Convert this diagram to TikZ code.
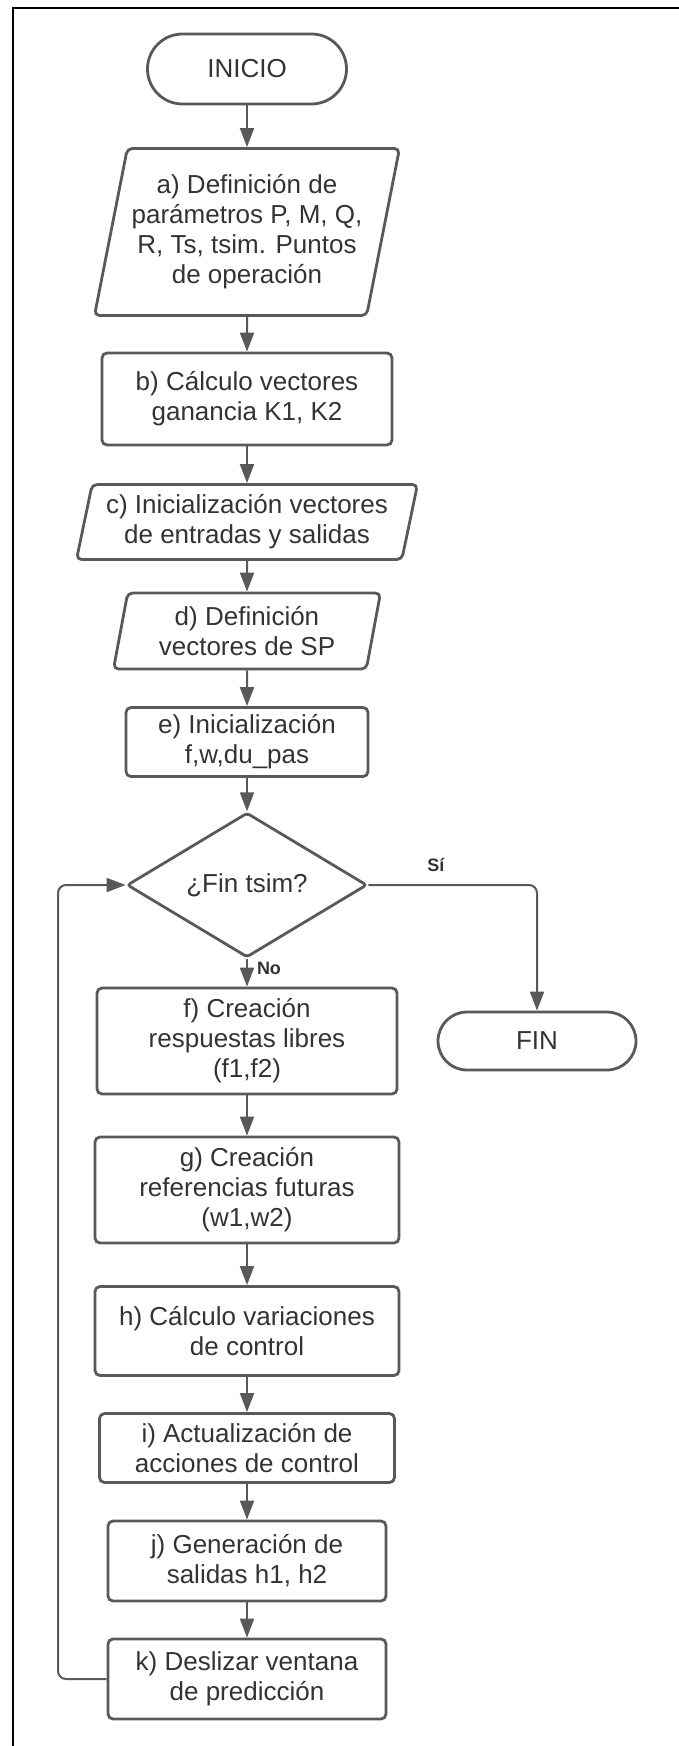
\documentclass[tikz,border=0pt]{standalone}
\usepackage{fontspec}
\setmainfont{Liberation Sans}
\usetikzlibrary{shapes.geometric,arrows.meta}
\definecolor{boxgray}{HTML}{595959}
\definecolor{txtgray}{HTML}{333333}
\tikzstyle{box}=[draw=boxgray, line width=2.8pt, rounded corners=5pt, text=txtgray, align=center, inner sep=0pt, font=\fontsize{26}{30}\selectfont]
\tikzstyle{proc}=[box, rectangle]
\tikzstyle{io}=[box, trapezium, trapezium left angle=74, trapezium right angle=106, trapezium stretches body]
\tikzstyle{term}=[box, rectangle]
\tikzstyle{cond}=[box, diamond, rounded corners=3pt]
\tikzstyle{arr}=[draw=boxgray, line width=2pt, -{Triangle[length=19pt,width=14pt]}]
\tikzstyle{lbl}=[text=txtgray, inner sep=2pt, font=\fontsize{18}{20}\selectfont\bfseries]

\begin{document}
\begin{tikzpicture}[x=1pt, y=-1pt]
\useasboundingbox (0,0) rectangle (679,1746);
\draw[black, line width=2pt] (12.5,1746) -- (12.5,7.5) -- (679,7.5);

\node[term, rounded corners=35pt, minimum width=199pt, minimum height=70pt] (inicio) at (247,69) {INICIO};
\node[io, minimum width=305pt, minimum height=167pt] (a) at (247,232) {a) Definición de\\parámetros P, M, Q,\\R, Ts, tsim. Puntos\\de operación};
\node[proc, minimum width=290pt, minimum height=92pt] (b) at (247,399) {b) Cálculo vectores\\ganancia K1, K2};
\node[io, minimum width=341pt, minimum height=75pt] (c) at (247,522) {c) Inicialización vectores\\de entradas y salidas};
\node[io, minimum width=267pt, minimum height=76pt] (d) at (247,631) {d) Definición\\vectores de SP};
\node[proc, minimum width=242pt, minimum height=69pt] (e) at (247,742) {e) Inicialización\\f,w,du\_pas};
\node[cond, minimum width=240pt, minimum height=112pt] (fintsim) at (247,885) {¿Fin tsim?};
\node[term, rounded corners=29pt, minimum width=198pt, minimum height=58pt] (fin) at (537,1041) {FIN};
\node[proc, minimum width=300pt, minimum height=106pt] (f) at (247,1041) {f) Creación\\respuestas libres\\(f1,f2)};
\node[proc, minimum width=304pt, minimum height=106pt] (g) at (247,1190) {g) Creación\\referencias futuras\\(w1,w2)};
\node[proc, minimum width=304pt, minimum height=89pt] (h) at (247,1331) {h) Cálculo variaciones\\de control};
\node[proc, minimum width=295pt, minimum height=69pt] (i) at (247,1448) {i) Actualización de\\acciones de control};
\node[proc, minimum width=278pt, minimum height=80pt] (j) at (247,1561) {j) Generación de\\salidas h1, h2};
\node[proc, minimum width=278pt, minimum height=80pt] (k) at (247,1679) {k) Deslizar ventana\\de predicción};
\coordinate (ret) at (58,1679);

\draw[arr] (inicio) -- (a);
\draw[arr] (a) -- (b);
\draw[arr] (b) -- (c);
\draw[arr] (c) -- (d);
\draw[arr] (d) -- (e);
\draw[arr] (e) -- (fintsim);
\draw[arr] (fintsim) -- node[lbl, pos=0.36, right=7pt] {No} (f);
\draw[arr, rounded corners=8pt] (fintsim.east) -| node[lbl, pos=0.2, above=10pt] {Sí} (fin.north);
\draw[arr] (f) -- (g);
\draw[arr] (g) -- (h);
\draw[arr] (h) -- (i);
\draw[arr] (i) -- (j);
\draw[arr] (j) -- (k);
\draw[arr, rounded corners=8pt] (k.west) -- (ret) |- (fintsim.west);
\end{tikzpicture}
\end{document}
